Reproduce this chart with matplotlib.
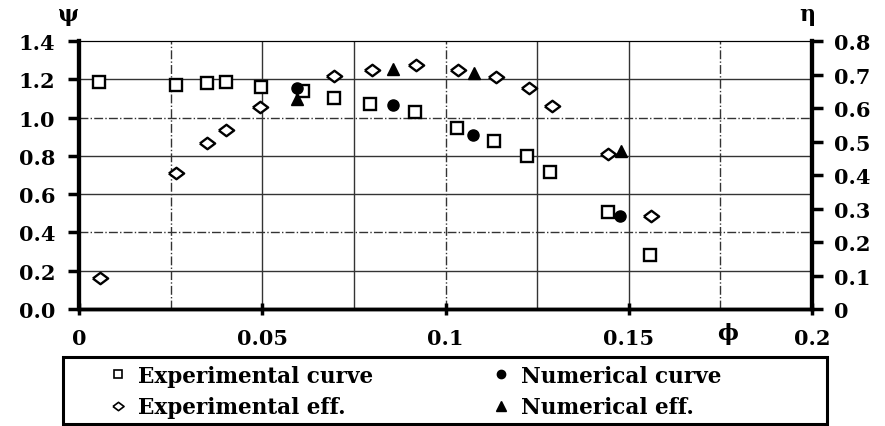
import matplotlib
matplotlib.use("Agg")
import matplotlib.pyplot as plt
from matplotlib.lines import Line2D
from matplotlib.patches import Rectangle

plt.rcParams["font.family"] = ["DejaVu Serif"]
plt.rcParams["font.weight"] = "bold"

# Flow coefficient phi for each measured / simulated point
exp_phi = [0.0055, 0.0265, 0.0349, 0.0402, 0.0497, 0.061, 0.0696, 0.0794,
           0.0917, 0.1031, 0.1132, 0.1222, 0.1285, 0.1443, 0.1558]
exp_psi = [1.186, 1.170, 1.180, 1.186, 1.160, 1.140, 1.102, 1.071,
           1.029, 0.945, 0.876, 0.799, 0.714, 0.507, 0.282]

num_phi = [0.0595, 0.0857, 0.1075, 0.1476]
num_psi = [1.153, 1.066, 0.909, 0.486]

eff_phi = [0.0057, 0.0265, 0.0349, 0.0402, 0.0495, 0.0696, 0.080, 0.092,
           0.1034, 0.1138, 0.1228, 0.129, 0.1443, 0.156]
eff_eta = [0.093, 0.406, 0.496, 0.534, 0.603, 0.696, 0.713, 0.728,
           0.713, 0.693, 0.660, 0.606, 0.463, 0.278]

neff_phi = [0.0595, 0.0857, 0.1078, 0.1479]
neff_eta = [0.627, 0.716, 0.704, 0.472]

x_ticks = [0, 0.05, 0.1, 0.15, 0.2]
x_labels = ["0", "0.05", "0.1", "0.15", "0.2"]
psi_ticks = [0.0, 0.2, 0.4, 0.6, 0.8, 1.0, 1.2, 1.4]
psi_labels = ["0.0", "0.2", "0.4", "0.6", "0.8", "1.0", "1.2", "1.4"]
eta_ticks = [0, 0.1, 0.2, 0.3, 0.4, 0.5, 0.6, 0.7, 0.8]
eta_labels = ["0", "0.1", "0.2", "0.3", "0.4", "0.5", "0.6", "0.7", "0.8"]

fig = plt.figure(figsize=(8.85, 4.27), dpi=100)
ax = fig.add_axes([0.0893, 0.274, 0.8282, 0.6276])
ax2 = ax.twinx()

ax.set_xlim(0, 0.2)
ax.set_ylim(0, 1.4)
ax2.set_ylim(0, 0.8)

# grid: a mix of solid and dash-dot rules
vgrid = [(0.025, "dashdot"), (0.05, "solid"), (0.075, "solid"), (0.1, "dashdot"),
         (0.125, "solid"), (0.15, "solid"), (0.175, "dashdot")]
hgrid = [(0.2, "solid"), (0.4, "dashdot"), (0.6, "solid"), (0.8, "solid"),
         (1.0, "dashdot"), (1.2, "solid")]
for xv, ls in vgrid:
    ax.axvline(xv, color="#333333", lw=1.0, ls=ls, zorder=0)
for yv, ls in hgrid:
    ax.axhline(yv, color="#333333", lw=1.0, ls=ls, zorder=0)

diamond = [(-1, 0), (0, 0.75), (1, 0), (0, -0.75), (-1, 0)]

ax.plot(exp_phi, exp_psi, ls="none", marker="s", ms=8.5, mfc="white",
        mec="black", mew=1.7, zorder=3)
ax.plot(num_phi, num_psi, ls="none", marker="o", ms=8, mfc="black",
        mec="black", zorder=4)
ax2.plot(eff_phi, eff_eta, ls="none", marker=diamond, ms=11, mfc="white",
         mec="black", mew=1.7, zorder=3)
ax2.plot(neff_phi, neff_eta, ls="none", marker="^", ms=9, mfc="black",
         mec="black", zorder=4)

for a in (ax, ax2):
    a.spines["top"].set_linewidth(0.8)
    a.spines["left"].set_linewidth(3)
    a.spines["right"].set_linewidth(3)
    a.spines["bottom"].set_linewidth(2.5)

tick_fs = 15
ax.set_xticks(x_ticks)
ax.set_xticklabels(x_labels, fontsize=tick_fs, fontweight="bold")
ax.set_yticks(psi_ticks)
ax.set_yticklabels(psi_labels, fontsize=tick_fs, fontweight="bold")
ax2.set_yticks(eta_ticks)
ax2.set_yticklabels(eta_labels, fontsize=tick_fs, fontweight="bold")

ax.tick_params(axis="y", direction="out", length=8, width=2.5, pad=9)
ax.tick_params(axis="x", direction="inout", length=8, width=2.5, pad=10)
ax2.tick_params(axis="y", direction="out", length=8, width=2.5, pad=8)

fig.text(68 / 885, 1 - 15 / 427, "\u03c8", fontsize=16, fontweight="bold",
         ha="center", va="center")
fig.text(807 / 885, 1 - 15 / 427, "\u03b7", fontsize=16, fontweight="bold",
         ha="center", va="center")
fig.text(728 / 885, 1 - 334 / 427, "\u03d5", fontsize=16, fontweight="bold",
         ha="center", va="center")

# legend: two columns, each its own legend, inside one rectangular frame
sq = Line2D([], [], ls="none", marker="s", ms=6, mfc="white", mec="black", mew=1.2)
dm = Line2D([], [], ls="none", marker=diamond, ms=8, mfc="white", mec="black", mew=1.2)
ci = Line2D([], [], ls="none", marker="o", ms=6, mfc="black", mec="black")
tr = Line2D([], [], ls="none", marker="^", ms=7, mfc="black", mec="black")

leg_kw = dict(loc="upper left", frameon=False, borderpad=0, borderaxespad=0,
              handlelength=0.9, handletextpad=0.5, labelspacing=0.44,
              prop={"size": 15.5, "weight": "bold"})
leg_top = 1 - 366 / 427
leg1 = fig.legend([sq, dm], ["Experimental curve", "Experimental eff."],
                  bbox_to_anchor=(108 / 885, leg_top), **leg_kw)
leg2 = fig.legend([ci, tr], ["Numerical curve", "Numerical eff."],
                  bbox_to_anchor=(491 / 885, leg_top), **leg_kw)

frame = Rectangle((63 / 885, 1 - 425 / 427), (827 - 63) / 885, (425 - 358) / 427,
                  transform=fig.transFigure, fill=False, edgecolor="black",
                  linewidth=2.2)
fig.patches.append(frame)

fig.savefig("out.png", dpi=100)
